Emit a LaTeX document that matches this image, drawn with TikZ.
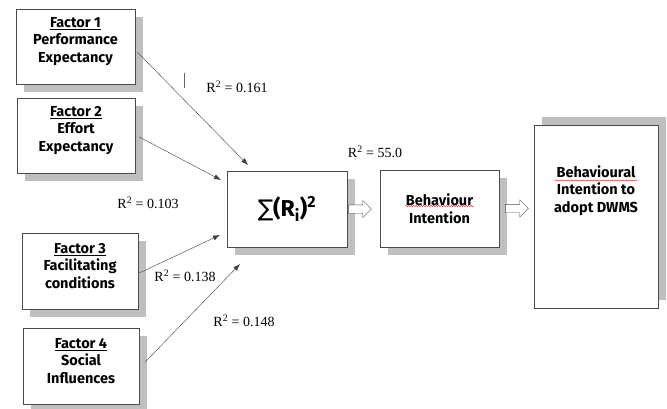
\documentclass[tikz,border=0pt]{standalone}
\usepackage{fontspec}
\setmainfont{Liberation Serif}
\newfontfamily\boxfont{Fira Sans}
\newfontfamily\symbfont{DejaVu Sans}
\usetikzlibrary{positioning,calc,shadows,shapes.arrows,arrows.meta,decorations.pathmorphing}
\tikzset{
	box/.style={draw=black!70, fill=white, inner sep=0pt},
	fbox/.style={box, minimum width=118pt, minimum height=75pt, drop shadow={shadow xshift=8pt, shadow yshift=-8pt, fill=black!25, opacity=1}},
	ftext/.style={font=\boxfont\bfseries\fontsize{14.5}{17.5}\selectfont, align=center},
	rlab/.style={font=\fontsize{14}{16}\selectfont},
	hollow/.style={single arrow, draw=black!70, fill=white, minimum height=23pt, single arrow head extend=4.5pt, inner sep=4pt},
	wavy/.style={red, line width=0.4pt, decorate, decoration={snake, amplitude=0.6pt, segment length=2.5pt}}
}

\begin{document}
\begin{tikzpicture}[x=1pt,y=-1pt,>={Latex[length=7pt,width=5pt]}]
					\useasboundingbox (0,0) rectangle (667,408);
					%FACTORS
					\node[fbox, minimum width=119pt, label={[ftext,yshift=5pt]center:\underline{Factor 1}\\Performance\\Expectancy}] (f1) at (75.5,46.5) {};
					\node[fbox, label={[ftext,yshift=5pt]center:\underline{Factor 2}\\Effort\\Expectancy}] (f2) at (76,135.5) {};
					\node[fbox, minimum width=116pt, minimum height=76pt, label={[ftext,yshift=5pt]center:\underline{Factor 3}\\Facilitating\\conditions}] (f3) at (80,271) {};
					\node[fbox, minimum width=116pt, minimum height=76pt, label={[ftext,yshift=5pt]center:\underline{Factor 4}\\Social\\Influences}] (f4) at (81,366) {};
					%SUM AND INTENTION
					\node[fbox, minimum width=120pt, minimum height=76pt, font=\boxfont\bfseries\fontsize{23}{26}\selectfont] (sig) at (287,209) {{\symbfont\mdseries ∑}(R\textsubscript{i})\textsuperscript{2}};
					\node[fbox, minimum width=119pt, minimum height=77pt, ftext] (bi) at (439.5,208.5) {Behaviour\\Intention};
					\node[box, minimum width=124pt, minimum height=183pt, drop shadow={shadow xshift=8pt, shadow yshift=8pt, fill=black!25, opacity=1}, label={[ftext,yshift=26pt]center:Behavioural\\Intention to\\adopt DWMS}] (dwms) at (596,216.5) {};
					\node[hollow, right=1pt of sig] (a1) {};
					\node[hollow, right=6pt of bi] (a2) {};
					%spell check marks
					\draw[wavy] ($(bi.center)+(-34,-2.5)$) -- ($(bi.center)+(34,-2.5)$);
					\draw[wavy] ($(dwms.center)+(-41,-36)$) -- ($(dwms.center)+(41,-36)$);
					%ARROWS
					\coordinate (h1) at (248,165);
					\coordinate (h2) at (221,180);
					\coordinate (h3) at (220,235);
					\coordinate (h4) at (240,264);
					\draw[->,black!75] ($(f1.east)+(2,5.5)$) -- (h1);
					\draw[->,black!75] ($(f2.east)+(4,1.5)$) -- (h2);
					\draw[->,black!75] ($(f3.east)+(1,2)$) -- (h3);
					\draw[->,black!75] ($(f4.east)+(6,-4)$) -- (h4);
					\draw[black!60] (184,73) -- (184,88);
					%R SQUARED
					\node[rlab] (r1) at (237,87) {R\textsuperscript{2} = 0.161};
					\node[rlab] (r2) at (148,203) {R\textsuperscript{2} = 0.103};
					\node[rlab] (r3) at (185,276) {R\textsuperscript{2} = 0.138};
					\node[rlab] (r4) at (244,321) {R\textsuperscript{2} = 0.148};
					\node[rlab] (r5) at (375,152) {R\textsuperscript{2} = 55.0};
\end{tikzpicture}
\end{document}
